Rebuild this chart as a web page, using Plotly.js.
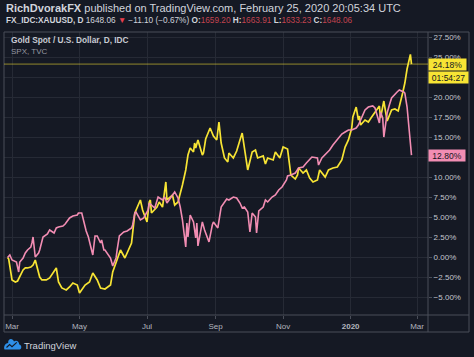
<!DOCTYPE html>
<html>
<head>
<meta charset="utf-8">
<script src="https://cdn.plot.ly/plotly-3.0.1.min.js"></script>
<style>
html,body{margin:0;padding:0;background:#151924;}
#chart{width:474px;height:357px;}
</style>
</head>
<body>
<div id="chart"></div>
<script>
// ---- data (percent change since 2019-02-25) ----
const goldDates = ['2019-02-25','2019-02-26','2019-03-01','2019-03-04','2019-03-06','2019-03-08','2019-03-11','2019-03-13','2019-03-15','2019-03-18','2019-03-20','2019-03-22','2019-03-26','2019-03-28','2019-04-01','2019-04-04','2019-04-08','2019-04-10','2019-04-12','2019-04-15','2019-04-19','2019-04-22','2019-04-25','2019-04-29','2019-05-01','2019-05-06','2019-05-10','2019-05-13','2019-05-17','2019-05-20','2019-05-24','2019-05-29','2019-05-31','2019-06-04','2019-06-07','2019-06-11','2019-06-14','2019-06-17','2019-06-20','2019-06-24','2019-06-25','2019-06-27','2019-07-01','2019-07-03','2019-07-04','2019-07-05','2019-07-10','2019-07-12','2019-07-15','2019-07-18','2019-07-19','2019-07-24','2019-07-26','2019-07-29','2019-08-01','2019-08-02','2019-08-05','2019-08-07','2019-08-09','2019-08-12','2019-08-13','2019-08-14','2019-08-16','2019-08-20','2019-08-21','2019-08-23','2019-08-27','2019-08-30','2019-09-02','2019-09-04','2019-09-06','2019-09-09','2019-09-12','2019-09-13','2019-09-17','2019-09-20','2019-09-23','2019-09-25','2019-09-27','2019-09-30','2019-10-04','2019-10-07','2019-10-09','2019-10-14','2019-10-16','2019-10-18','2019-10-23','2019-10-25','2019-10-29','2019-11-01','2019-11-05','2019-11-07','2019-11-08','2019-11-12','2019-11-14','2019-11-15','2019-11-19','2019-11-22','2019-11-25','2019-11-28','2019-12-02','2019-12-04','2019-12-06','2019-12-09','2019-12-12','2019-12-16','2019-12-20','2019-12-24','2019-12-27','2019-12-30','2020-01-02','2020-01-03','2020-01-06','2020-01-08','2020-01-09','2020-01-10','2020-01-14','2020-01-17','2020-01-20','2020-01-23','2020-01-27','2020-01-28','2020-01-31','2020-02-03','2020-02-05','2020-02-07','2020-02-10','2020-02-13','2020-02-17','2020-02-19','2020-02-21','2020-02-24','2020-02-25'];
const goldPct = [0.00,-0.19,-2.81,-3.06,-2.94,-2.31,-1.56,-1.31,-1.31,-1.19,-0.94,-0.31,-2.44,-2.81,-2.81,-2.56,-1.69,-1.31,-3.06,-3.81,-4.06,-3.69,-3.19,-3.44,-4.44,-3.44,-3.06,-1.94,-2.81,-3.81,-3.94,-3.44,-1.81,-0.31,0.94,-0.06,0.94,1.81,5.56,6.81,7.19,5.94,4.44,6.94,7.19,5.56,6.31,6.94,6.31,9.44,7.19,7.81,6.56,6.94,8.44,9.06,10.94,12.81,13.69,13.19,14.31,13.69,14.69,12.81,13.06,14.81,16.19,15.19,14.69,16.94,14.31,12.44,11.94,13.06,12.44,13.31,14.69,15.56,13.69,10.94,13.19,13.44,12.44,12.69,11.69,12.44,12.19,13.19,12.44,13.81,13.56,11.31,10.31,9.81,10.31,11.19,10.56,10.94,9.94,9.44,9.69,10.94,10.56,10.06,10.94,11.19,11.31,12.19,13.81,14.69,16.19,17.56,18.81,17.19,17.69,16.56,17.19,16.94,17.56,18.19,18.94,17.44,19.56,17.06,17.81,18.44,18.56,18.31,20.56,21.81,23.56,25.40,24.18];

const spxDates = ['2019-02-25','2019-02-27','2019-03-01','2019-03-05','2019-03-07','2019-03-08','2019-03-11','2019-03-13','2019-03-15','2019-03-18','2019-03-19','2019-03-20','2019-03-22','2019-03-25','2019-03-26','2019-03-29','2019-04-02','2019-04-04','2019-04-08','2019-04-10','2019-04-12','2019-04-16','2019-04-18','2019-04-22','2019-04-25','2019-04-29','2019-04-30','2019-05-03','2019-05-07','2019-05-09','2019-05-13','2019-05-15','2019-05-17','2019-05-20','2019-05-21','2019-05-23','2019-05-24','2019-05-29','2019-05-31','2019-06-03','2019-06-04','2019-06-06','2019-06-10','2019-06-13','2019-06-17','2019-06-18','2019-06-20','2019-06-21','2019-06-25','2019-06-28','2019-07-02','2019-07-03','2019-07-08','2019-07-11','2019-07-15','2019-07-17','2019-07-19','2019-07-24','2019-07-26','2019-07-29','2019-07-31','2019-08-02','2019-08-05','2019-08-06','2019-08-07','2019-08-09','2019-08-12','2019-08-14','2019-08-15','2019-08-16','2019-08-20','2019-08-22','2019-08-26','2019-08-29','2019-08-30','2019-09-03','2019-09-05','2019-09-06','2019-09-11','2019-09-13','2019-09-17','2019-09-20','2019-09-23','2019-09-25','2019-09-27','2019-09-30','2019-10-02','2019-10-04','2019-10-07','2019-10-08','2019-10-10','2019-10-14','2019-10-16','2019-10-18','2019-10-22','2019-10-25','2019-10-28','2019-10-31','2019-11-04','2019-11-05','2019-11-08','2019-11-12','2019-11-15','2019-11-19','2019-11-22','2019-11-25','2019-11-27','2019-12-02','2019-12-03','2019-12-06','2019-12-11','2019-12-13','2019-12-16','2019-12-20','2019-12-24','2019-12-27','2019-12-30','2020-01-02','2020-01-06','2020-01-08','2020-01-10','2020-01-14','2020-01-17','2020-01-21','2020-01-23','2020-01-27','2020-01-28','2020-01-30','2020-01-31','2020-02-03','2020-02-05','2020-02-07','2020-02-12','2020-02-14','2020-02-18','2020-02-19','2020-02-21','2020-02-24','2020-02-25'];
const spxPct = [0.00,0.31,-0.31,-0.56,-1.81,-0.56,-0.06,0.56,0.94,1.31,1.81,2.56,0.06,0.56,0.94,2.56,2.94,3.44,3.06,3.69,3.81,3.94,4.19,4.94,5.19,5.31,5.56,5.56,3.31,2.56,0.31,2.69,2.69,1.81,2.19,0.94,0.94,-0.06,-1.06,-0.06,0.94,2.69,3.19,3.31,3.69,4.06,5.56,5.69,4.69,4.94,5.94,6.81,6.19,7.56,7.19,7.56,6.81,7.81,8.19,7.44,6.31,4.69,1.31,4.31,2.56,5.31,4.44,2.44,4.31,1.44,4.44,3.44,1.94,4.06,4.44,3.69,5.69,6.31,7.31,7.19,7.56,7.44,6.81,6.19,6.31,5.69,3.19,5.56,5.06,3.06,5.81,6.31,7.19,6.94,7.56,7.81,8.44,8.81,9.69,10.19,10.31,10.56,11.19,11.31,11.81,12.19,12.56,12.44,11.56,12.44,13.19,13.44,14.06,14.69,15.44,15.69,15.94,15.94,16.19,16.56,17.19,18.44,18.81,18.94,18.69,16.81,18.19,17.44,15.06,18.06,19.06,19.94,20.69,20.94,20.69,20.56,18.81,14.06,12.80];

const monthTicks = ['2019-03-01','2019-05-01','2019-07-01','2019-09-01','2019-11-01','2020-01-01','2020-03-01'];
const monthLabels = ['Mar','May','Jul','Sep','Nov','<b>2020</b>','Mar'];
const pctTicks = [-5, -2.5, 0, 2.5, 5, 7.5, 10, 12.5, 15, 17.5, 20, 22.5, 25, 27.5];
const pctLabels = ['−5.00%','−2.50%','0.00%','2.50%','5.00%','7.50%','10.00%','','15.00%','17.50%','20.00%','','25.00%','27.50%'];

// ---- layout helpers (pixel -> paper) ----
const PL = 4, PR = 428, PT = 32, PB = 315;
const X = px => (px - PL) / (PR - PL);
const Y = py => (PB - py) / (PB - PT);
function path(cmds){
  return cmds.map(c => {
    let s = c[0];
    for (let i = 1; i < c.length; i += 2) s += ' ' + X(c[i]).toFixed(5) + ',' + Y(c[i+1]).toFixed(5);
    return s;
  }).join(' ');
}

const FONT = 'Liberation Sans, Arial, sans-serif';
const TXT = '#d1d4dc';
const RED = '#c2434f';
const GOLD = '#f7e434';
const PINK = '#f28db3';
const BORDER = '#4a4e59';
const GRID = '#262a35';

const goldLast = goldPct[goldPct.length - 1];
const spxLast = spxPct[spxPct.length - 1];

const traces = [
  {x: goldDates, y: goldPct, type: 'scatter', mode: 'lines', line: {color: GOLD, width: 1.7}, hoverinfo: 'skip'},
  {x: spxDates, y: spxPct, type: 'scatter', mode: 'lines', line: {color: PINK, width: 1.6}, hoverinfo: 'skip'}
];

const layout = {
  width: 474, height: 357,
  margin: {l: PL, r: 474 - PR, t: PT, b: 357 - PB, pad: 0},
  paper_bgcolor: '#151924', plot_bgcolor: '#151924',
  showlegend: false,
  font: {family: FONT, color: TXT},
  xaxis: {
    type: 'date', range: ['2019-02-21 18:00', '2020-03-10 22:00'],
    tickmode: 'array', tickvals: monthTicks, ticktext: monthLabels,
    showgrid: true, gridcolor: GRID, gridwidth: 1,
    ticks: 'outside', ticklen: 3, tickcolor: BORDER,
    tickfont: {size: 8, color: '#b2b5be', family: FONT},
    zeroline: false, showline: false, fixedrange: true
  },
  yaxis: {
    side: 'right', range: [-7.19, 28.19],
    tickmode: 'array', tickvals: pctTicks, ticktext: pctLabels,
    showgrid: true, gridcolor: GRID, gridwidth: 1,
    ticks: 'outside', ticklen: 3, tickcolor: BORDER,
    tickfont: {size: 8, color: '#c3c6ce', family: FONT},
    zeroline: false, showline: false, fixedrange: true
  },
  shapes: [
    {type: 'rect', xref: 'paper', yref: 'paper', x0: X(4), x1: X(469), y0: Y(332), y1: Y(32), line: {color: BORDER, width: 1}},
    {type: 'line', xref: 'paper', yref: 'paper', x0: 1, x1: 1, y0: Y(332), y1: Y(32), line: {color: BORDER, width: 1}},
    {type: 'line', xref: 'paper', yref: 'paper', x0: X(4), x1: X(469), y0: 0, y1: 0, line: {color: BORDER, width: 1}},
    {type: 'line', xref: 'paper', yref: 'y', x0: 0, x1: 1, y0: goldLast, y1: goldLast, line: {color: 'rgba(247,228,52,0.55)', width: 1}},
    {type: 'path', xref: 'paper', yref: 'paper', fillcolor: '#2e8fe8', line: {width: 0},
      path: path([['M',4.5,349.5],['L',19.5,349.5],['C',22,349.5,22,345,19.2,344.6],['C',19.2,340.8,15.6,339.8,14,341.6],['C',12.8,337.6,7.6,338.4,8.2,343],['C',4.8,343.2,3.4,347.2,4.5,349.5],['Z']])},
    {type: 'path', xref: 'paper', yref: 'paper', line: {color: '#151924', width: 1.2},
      path: path([['M',6.5,347.5],['L',9.6,344.6],['L',12,346.6],['L',16.8,342.4]])}
  ],
  annotations: [
    {xref: 'paper', yref: 'paper', x: X(4), y: Y(8), xanchor: 'left', yanchor: 'middle', showarrow: false,
      text: '<b>RichDvorakFX</b> published on TradingView.com, February 25, 2020 20:05:34 UTC',
      font: {size: 11, color: TXT, family: FONT}},
    {xref: 'paper', yref: 'paper', x: X(4), y: Y(20.5), xanchor: 'left', yanchor: 'middle', showarrow: false,
      text: '<b>FX_IDC:XAUUSD, D</b> 1648.06 <span style="color:#e8404f">▼</span> −11.10 (−0.67%) <b>O:</b><span style="color:' + RED + '">1659.20</span> <b>H:</b><span style="color:' + RED + '">1663.91</span> <b>L:</b><span style="color:' + RED + '">1633.23</span> <b>C:</b><span style="color:' + RED + '">1648.06</span>',
      font: {size: 8.25, color: TXT, family: FONT}},
    {xref: 'paper', yref: 'paper', x: X(9), y: Y(40), xanchor: 'left', yanchor: 'middle', showarrow: false,
      text: '<b>Gold Spot / U.S. Dollar, D, IDC</b>', font: {size: 8.3, color: '#c8cbd3', family: FONT}},
    {xref: 'paper', yref: 'paper', x: X(9), y: Y(51), xanchor: 'left', yanchor: 'middle', showarrow: false,
      text: 'SPX, TVC', font: {size: 8, color: '#9598a1', family: FONT}},
    {xref: 'paper', yref: 'y', x: 1, y: goldLast, xanchor: 'left', yanchor: 'middle', showarrow: false,
      text: goldLast.toFixed(2) + '%', bgcolor: GOLD, width: 34, height: 8, borderpad: 1.5,
      font: {size: 8.5, color: '#131722', family: FONT}},
    {xref: 'paper', yref: 'y', x: 1, y: goldLast, yshift: -13.5, xanchor: 'left', yanchor: 'middle', showarrow: false,
      text: '01:54:27', bgcolor: GOLD, width: 36, height: 8, borderpad: 1.5,
      font: {size: 8.5, color: '#131722', family: FONT}},
    {xref: 'paper', yref: 'y', x: 1, y: spxLast, xanchor: 'left', yanchor: 'middle', showarrow: false,
      text: spxLast.toFixed(2) + '%', bgcolor: PINK, width: 33, height: 8, borderpad: 1.5,
      font: {size: 8.5, color: '#131722', family: FONT}},
    {xref: 'paper', yref: 'paper', x: X(22), y: Y(345), xanchor: 'left', yanchor: 'middle', showarrow: false,
      text: 'TradingView', font: {size: 9.5, color: TXT, family: FONT}}
  ]
};

Plotly.newPlot('chart', traces, layout, {staticPlot: true, displayModeBar: false});
</script>
</body>
</html>
